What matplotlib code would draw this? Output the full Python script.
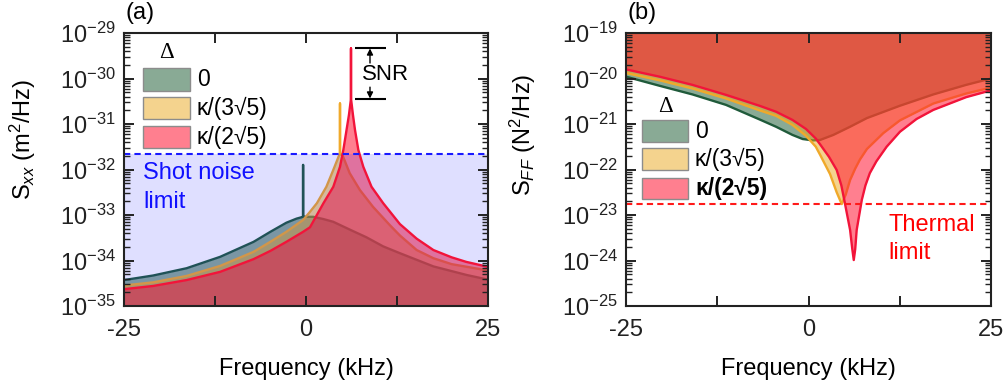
import numpy as np
import matplotlib
matplotlib.use("Agg")
import matplotlib.pyplot as plt
from matplotlib.patches import Rectangle
from matplotlib.ticker import FixedLocator, FixedFormatter, NullFormatter, LogFormatterSciNotation

plt.rcParams['font.family'] = ['Liberation Sans', 'DejaVu Sans']
plt.rcParams['font.size'] = 17
plt.rcParams['mathtext.fontset'] = 'custom'
plt.rcParams['mathtext.rm'] = 'Liberation Sans'
plt.rcParams['mathtext.it'] = 'Liberation Sans:italic'
plt.rcParams['mathtext.bf'] = 'Liberation Sans:bold'
plt.rcParams['axes.unicode_minus'] = False

# ---------------- data (log10 of spectral density) ----------------
series_labels = ['0', 'κ/(3√5)', 'κ/(2√5)']

# (a) displacement spectra S_xx (m^2/Hz)
green_a_freq = [-25, -21.0, -16.4, -11.8, -7.2, -4.9, -2.7, -1.3, -0.4, -0.4, -0.4, 1.0, 2.4, 3.75, 6.0, 8.3,
                10.6, 12.9, 17.5, 22.1, 25]
green_a_log = [-34.43, -34.33, -34.17, -33.92, -33.59, -33.37, -33.17, -33.08, -33.04, -31.90, -33.04, -33.04,
               -33.09, -33.15, -33.32, -33.49, -33.69, -33.84, -34.13, -34.32, -34.42]
orange_a_freq = [-25, -21.0, -16.4, -11.8, -7.2, -4.9, -2.7, -0.4, 0.55, 1.5, 2.8, 3.75, 4.67, 4.67, 4.67, 5.1,
                 6.0, 7.4, 9.2, 11.5, 12.9, 15.2, 17.5, 20.0, 25]
orange_a_log = [-34.55, -34.48, -34.34, -34.12, -33.81, -33.59, -33.37, -33.11, -32.93, -32.74, -32.38, -32.01,
                -31.64, -30.55, -31.64, -31.72, -32.08, -32.45, -32.82, -33.22, -33.45, -33.77, -33.95, -34.08,
                -34.22]
red_a_freq = [-25, -21.0, -16.4, -11.8, -7.2, -4.9, -2.7, -0.4, 0.55, 2.4, 3.75, 4.67, 5.13, 5.57, 5.9, 6.18,
              6.18, 6.18, 6.45, 6.73, 7.19, 7.87, 9.0, 10.6, 12.9, 15.2, 17.5, 20.0, 22.0, 25]
red_a_log = [-34.63, -34.56, -34.43, -34.25, -33.97, -33.79, -33.59, -33.37, -33.27, -32.74, -32.38, -31.94,
             -31.57, -31.13, -30.80, -30.44, -29.34, -30.44, -30.80, -31.13, -31.57, -31.94, -32.38, -32.74,
             -33.20, -33.52, -33.77, -33.93, -34.03, -34.14]
shot_noise_log = -31.66

# (b) force spectra S_FF (N^2/Hz)
green_b_freq = [-25, -20.4, -15.9, -11.3, -6.7, -4.45, -2.2, -0.8, 0.6, 1.6, 3.4, 5.7, 8.0, 12.5, 17.1, 21.6, 25]
green_b_log = [-19.96, -20.16, -20.35, -20.58, -20.90, -21.06, -21.24, -21.33, -21.36, -21.35, -21.24, -21.06,
               -20.87, -20.60, -20.35, -20.14, -20.0]
orange_b_freq = [-25, -20.4, -15.9, -11.3, -6.7, -4.45, -2.2, -0.34, 1.0, 1.6, 2.95, 3.86, 4.55, 5.1, 5.7, 6.4,
                 7.05, 8.0, 10.25, 12.53, 17.1, 21.6, 25]
orange_b_log = [-19.88, -20.04, -20.22, -20.44, -20.70, -20.82, -21.02, -21.26, -21.50, -21.68, -22.10, -22.50,
                -22.76, -22.55, -22.23, -21.98, -21.78, -21.55, -21.20, -20.92, -20.55, -20.33, -20.20]
red_b_freq = [-25, -20.4, -15.9, -11.3, -6.7, -4.45, -2.2, -0.34, 1.0, 1.6, 2.8, 3.86, 4.5, 4.9, 5.3, 5.7, 6.0,
              6.2, 6.4, 6.6, 6.95, 7.3, 7.8, 8.4, 9.3, 10.7, 12.53, 14.8, 17.1, 21.6, 25]
red_b_log = [-19.80, -19.96, -20.14, -20.36, -20.60, -20.73, -20.91, -21.11, -21.32, -21.45, -21.72, -22.01,
             -22.35, -22.67, -23.00, -23.33, -23.75, -23.99, -23.75, -23.33, -23.00, -22.67, -22.35, -22.08,
             -21.82, -21.50, -21.17, -20.89, -20.69, -20.41, -20.26]
thermal_log = -22.75

# SNR marker levels (red spike top and red peak base)
snr_top_log = -29.34
snr_bot_log = -30.44

# ---------------- styling ----------------
line_cols = ['#1f5a3a', '#f0a92a', '#f2143a']
fill_cols = ['#15572d', '#eba91f', '#ff1633']
fill_alpha = [0.5, 0.5, 0.55]

fig = plt.figure(figsize=(10.06, 3.86), dpi=100)
axA = fig.add_axes([124/1006, 80/386, 364/1006, 273/386])
axB = fig.add_axes([626/1006, 80/386, 365/1006, 273/386])


def style_axes(ax, ymin, ymax):
    ax.set_yscale('log')
    ax.set_xlim(-25, 25)
    ax.set_ylim(10.0**ymin, 10.0**ymax)
    ax.xaxis.set_major_locator(FixedLocator([-25, -12.5, 0, 12.5, 25]))
    ax.xaxis.set_major_formatter(FixedFormatter(['-25', '', '0', '', '25']))
    decades = np.arange(ymin, ymax + 1)
    ax.yaxis.set_major_locator(FixedLocator(10.0**decades))
    ax.yaxis.set_major_formatter(LogFormatterSciNotation())
    minors = [m * 10.0**d for d in decades[:-1] for m in range(2, 10)]
    ax.yaxis.set_minor_locator(FixedLocator(minors))
    ax.yaxis.set_minor_formatter(NullFormatter())
    ax.tick_params(which='both', direction='in', top=True, right=True, colors='#222222')
    ax.tick_params(which='major', length=7, width=1.4, labelsize=17)
    ax.tick_params(axis='y', which='major', pad=6)
    ax.tick_params(axis='x', which='major', pad=9)
    ax.tick_params(which='minor', length=4, width=1.0)
    for s in ax.spines.values():
        s.set_linewidth(1.5)
        s.set_color('#222222')
        s.set_zorder(5)


# ---------------- panel (a) ----------------
style_axes(axA, -35, -29)
bottomA = 10.0**-35
for k, (f, lg, lc, fc, al) in enumerate(zip([green_a_freq, orange_a_freq, red_a_freq],
                                            [green_a_log, orange_a_log, red_a_log],
                                            line_cols, fill_cols, fill_alpha)):
    v = 10.0**np.array(lg)
    axA.fill_between(f, bottomA, v, color=fc, alpha=al, lw=0, zorder=1 + 0.2 * k)
    axA.plot(f, v, color=lc, lw=1.7, zorder=1.1 + 0.2 * k)
axA.fill_between([-25, 25], bottomA, 10.0**shot_noise_log, color='#2a2aff', alpha=0.15, lw=0, zorder=1.45)
axA.axhline(10.0**shot_noise_log, color='#1a1aff', lw=1.5, ls=(0, (3, 2)), zorder=3)
axA.text(-22.4, 10.0**-32.08, 'Shot noise', color='#1010ff', fontsize=17, ha='left', va='center', zorder=4)
axA.text(-22.4, 10.0**-32.71, 'limit', color='#1010ff', fontsize=17, ha='left', va='center', zorder=4)

# SNR annotation
axA.hlines([10.0**snr_top_log, 10.0**snr_bot_log], 6.73, 10.99, color='black', lw=1.5, zorder=4)
axA.annotate('', xy=(8.79, 10.0**snr_top_log), xytext=(8.79, 10.0**-29.66),
             arrowprops=dict(arrowstyle='-|>', color='black', lw=1.0, mutation_scale=9, shrinkA=0, shrinkB=0))
axA.annotate('', xy=(8.79, 10.0**snr_bot_log), xytext=(8.79, 10.0**-30.19),
             arrowprops=dict(arrowstyle='-|>', color='black', lw=1.0, mutation_scale=9, shrinkA=0, shrinkB=0))
axA.text(10.9, 10.0**-29.92, 'SNR', fontsize=16, ha='center', va='center')

axA.set_xlabel('Frequency (kHz)', fontsize=17)
axA.xaxis.set_label_coords(0.5, -0.19)
axA.set_ylabel(r'S$_{xx}$ (m$^2$/Hz)', fontsize=17)
axA.yaxis.set_label_coords(-0.235, 0.61)
axA.text(0.003, 1.073, '(a)', transform=axA.transAxes, fontsize=17, ha='left', va='center')

# legend (a)
legA_rows = [(0.788, 0.872), (0.685, 0.766), (0.579, 0.659)]
axA.text(0.118, 0.927, 'Δ', transform=axA.transAxes, family=['Liberation Serif', 'DejaVu Serif'],
         fontsize=16.5, ha='center', va='center')
for (y0, y1), lab, fc, al in zip(legA_rows, series_labels, fill_cols, fill_alpha):
    axA.add_patch(Rectangle((0.052, y0), 0.129, y1 - y0, transform=axA.transAxes, facecolor=fc, alpha=al,
                            lw=0, zorder=6))
    axA.add_patch(Rectangle((0.052, y0), 0.129, y1 - y0, transform=axA.transAxes, fill=False,
                            edgecolor='#8c8c8c', lw=1.0, zorder=7))
    axA.text(0.2, (y0 + y1) / 2, lab, transform=axA.transAxes, fontsize=16.5, ha='left', va='center', zorder=7)

# ---------------- panel (b) ----------------
style_axes(axB, -25, -19)
topB = 10.0**-19
for k, (f, lg, lc, fc, al) in enumerate(zip([green_b_freq, orange_b_freq, red_b_freq],
                                            [green_b_log, orange_b_log, red_b_log],
                                            line_cols, fill_cols, fill_alpha)):
    v = 10.0**np.array(lg)
    axB.fill_between(f, v, topB, color=fc, alpha=al, lw=0, zorder=1 + 0.2 * k)
    axB.plot(f, v, color=lc, lw=1.7, zorder=1.1 + 0.2 * k)
axB.axhline(10.0**thermal_log, color='#ff1a1a', lw=1.5, ls=(0, (3, 2)), zorder=3)
axB.text(10.9, 10.0**-23.22, 'Thermal', color='#ff0000', fontsize=17, ha='left', va='center')
axB.text(10.9, 10.0**-23.84, 'limit', color='#ff0000', fontsize=17, ha='left', va='center')

axB.set_xlabel('Frequency (kHz)', fontsize=17)
axB.xaxis.set_label_coords(0.5, -0.19)
axB.set_ylabel(r'S$_{FF}$ (N$^2$/Hz)', fontsize=17)
axB.yaxis.set_label_coords(-0.241, 0.628)
axB.text(0.003, 1.073, '(b)', transform=axB.transAxes, fontsize=17, ha='left', va='center')

legB_rows = [(0.601, 0.681), (0.498, 0.579), (0.392, 0.469)]
axB.text(0.107, 0.729, 'Δ', transform=axB.transAxes, family=['Liberation Serif', 'DejaVu Serif'],
         fontsize=16.5, ha='center', va='center')
for i, ((y0, y1), lab, fc, al) in enumerate(zip(legB_rows, series_labels, fill_cols, fill_alpha)):
    axB.add_patch(Rectangle((0.043, y0), 0.127, y1 - y0, transform=axB.transAxes, facecolor=fc, alpha=al,
                            lw=0, zorder=6))
    axB.add_patch(Rectangle((0.043, y0), 0.127, y1 - y0, transform=axB.transAxes, fill=False,
                            edgecolor='#8c8c8c', lw=1.0, zorder=7))
    axB.text(0.189, (y0 + y1) / 2, lab, transform=axB.transAxes, fontsize=16.5, ha='left', va='center',
             fontweight='bold' if i == 2 else 'normal', zorder=7)

fig.savefig('out.png', dpi=100)
